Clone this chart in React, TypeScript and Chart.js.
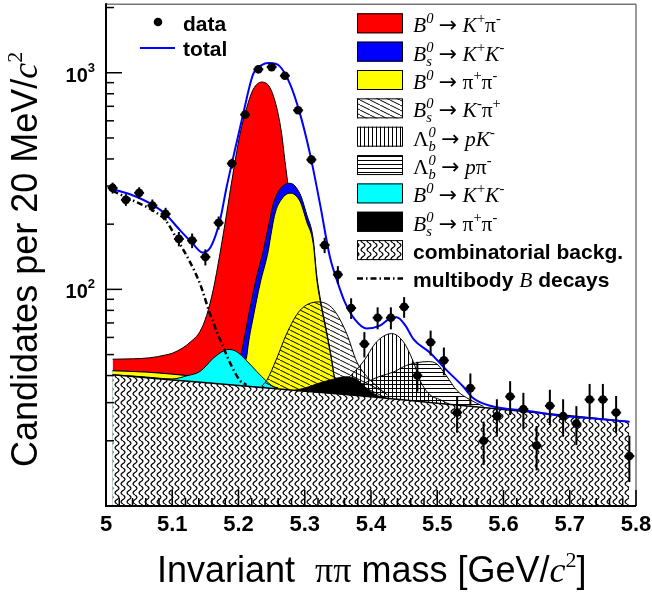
import React, { useEffect, useRef } from "react";
import { Chart, registerables } from "chart.js";
Chart.register(...registerables);

// ---------- data ----------
const binCenters = [5.01, 5.03, 5.05, 5.07, 5.09, 5.11, 5.13, 5.15, 5.17, 5.19, 5.21, 5.23, 5.25, 5.27, 5.29, 5.31, 5.33, 5.35, 5.37, 5.39, 5.41, 5.43, 5.45, 5.47, 5.49, 5.51, 5.53, 5.55, 5.57, 5.59, 5.61, 5.63, 5.65, 5.67, 5.69, 5.71, 5.73, 5.75, 5.77, 5.79];
const dataCounts = [294, 259, 279, 244, 223, 171, 168, 141, 203, 381, 641, 1037, 1062, 969, 671, 397, 160, 117, 82, 56, 74, 74, 83, 40, 57, 47, 27, 35, 20, 26, 32, 28, 19, 29, 26, 24, 31, 31, 27, 17];
const dataErrors = [17, 16, 17, 16, 15, 13, 13, 12, 14, 20, 25, 32, 33, 31, 26, 20, 13, 11, 9, 7.5, 8.6, 8.6, 9.1, 6.3, 7.5, 6.9, 5.2, 5.9, 4.5, 5.1, 5.7, 5.3, 4.4, 5.4, 5.1, 4.9, 5.6, 5.6, 5.2, 4.1];

const totalMass = [5.01, 5.04, 5.07, 5.09, 5.11, 5.13, 5.146, 5.158, 5.172, 5.182, 5.192, 5.207, 5.222, 5.237, 5.247, 5.262, 5.278, 5.293, 5.308, 5.323, 5.338, 5.35, 5.36, 5.375, 5.393, 5.4136, 5.4287, 5.4388, 5.452, 5.464, 5.489, 5.514, 5.539, 5.554, 5.58, 5.64, 5.69, 5.74, 5.79];
const totalVal = [290, 272, 246, 222, 190, 164, 148, 157, 208, 296, 406, 644, 983, 1093, 1108, 1073, 884, 644, 421, 248, 141, 107, 88, 73, 66, 68, 73.5, 74.3, 68, 59, 51, 42.4, 35.6, 31.5, 29, 27.4, 26, 25.3, 24.5];

const multiMass = [5.01, 5.04, 5.07, 5.09, 5.107, 5.125, 5.142, 5.157, 5.177, 5.19, 5.202, 5.212];
const multiVal = [285, 258, 232, 208, 171, 137, 106, 77, 54, 44, 38, 36.2];

const combMass = [5.01, 5.1, 5.2, 5.3, 5.4, 5.5, 5.6, 5.7, 5.79];
const combVal = [40.3, 38.2, 36.0, 33.9, 31.9, 29.8, 27.9, 26.1, 24.5];

const kpiMass = [5.01, 5.04, 5.066, 5.09, 5.1, 5.115, 5.127, 5.142, 5.152, 5.162, 5.172, 5.182, 5.19, 5.2023, 5.2124, 5.2223, 5.235, 5.2475, 5.2577, 5.2652, 5.27, 5.2752, 5.28, 5.29, 5.3, 5.31, 5.32, 5.33, 5.34, 5.35];
const kpiVal = [47.6, 47.8, 48.3, 49.8, 50.7, 53.5, 57, 64, 76, 100, 146, 223, 318, 521, 690, 839, 906, 853, 690, 521, 393, 296, 225, 150, 100, 68, 50, 40, 35, 33.2];

const bsKKMass = [5.01, 5.06, 5.1, 5.13, 5.16, 5.19, 5.2, 5.2072, 5.2148, 5.2249, 5.2374, 5.245, 5.2525, 5.2626, 5.2777, 5.2928, 5.3029, 5.3129, 5.318, 5.3231, 5.333, 5.3407, 5.345, 5.35, 5.36];
const bsKKVal = [42.1, 41.5, 40.6, 39.8, 39.0, 39.5, 44.5, 56.3, 74.6, 106, 151, 194, 248, 290, 309, 276, 222, 170, 117, 92, 64, 47.5, 39, 34.6, 33.5];

const pipiMass = [5.01, 5.06, 5.1, 5.13, 5.16, 5.19, 5.2, 5.207, 5.2124, 5.2148, 5.2223, 5.2325, 5.245, 5.2475, 5.255, 5.2652, 5.2777, 5.2928, 5.3029, 5.3129, 5.318, 5.3231, 5.333, 5.3407, 5.345, 5.35, 5.36];
const pipiVal = [42.1, 41.5, 40.6, 39.8, 39.0, 39.5, 41.5, 45, 49, 56, 74.6, 106, 151, 168, 223, 261, 278, 255, 205, 162, 112, 89, 62.5, 46.4, 38.5, 34.5, 33.5];

const bsKpiMass = [5.235, 5.2426, 5.2577, 5.2728, 5.2928, 5.3205, 5.343, 5.3633, 5.3784, 5.3935, 5.41, 5.425];
const bsKpiVal = [35.8, 38.0, 48, 62.5, 80, 87.5, 81, 62.5, 46.4, 39.7, 35.5, 32.5];

const lbpKMass = [5.33, 5.35, 5.3683, 5.3884, 5.4086, 5.4312, 5.4488, 5.4638, 5.474, 5.489, 5.504, 5.52];
const lbpKVal = [33.5, 35.5, 39.7, 46.4, 57.3, 62.5, 57.3, 46.4, 38, 32.6, 31, 29.3];

const lbppiMass = [5.32, 5.3633, 5.3834, 5.4136, 5.4337, 5.454, 5.4865, 5.4992, 5.5143, 5.5294, 5.549, 5.57];
const lbppiVal = [33.6, 35.0, 36.3, 39.7, 41.5, 44.6, 46.4, 45.3, 39.7, 34.2, 31.0, 28.8];

const b0KKMass = [5.01, 5.06, 5.1, 5.1218, 5.1419, 5.162, 5.177, 5.186, 5.197, 5.2124, 5.2275, 5.2426, 5.2525, 5.26];
const b0KKVal = [40.4, 39.4, 38.6, 39.9, 41.8, 48.1, 51.9, 52.8, 51.6, 46.8, 41.8, 37.6, 35.6, 35.1];

const bspipiMass = [5.285, 5.3, 5.318, 5.343, 5.361, 5.378, 5.393, 5.41, 5.42];
const bspipiVal = [34.2, 35.0, 36.6, 38.5, 39.5, 38.5, 35.0, 32.3, 31.7];

const xTickValues = [5, 5.1, 5.2, 5.3, 5.4, 5.5, 5.6, 5.7, 5.8];
const xTickLabels = ["5", "5.1", "5.2", "5.3", "5.4", "5.5", "5.6", "5.7", "5.8"];
const yMajorValues = [100, 1000];
const yMajorExp = ["2", "3"];
const yMinorValues = [20, 30, 40, 50, 60, 70, 80, 90, 200, 300, 400, 500, 600, 700, 800, 900, 2000];

// ---------- styling helpers ----------
const SANS = '"Liberation Sans", Arial, Helvetica, sans-serif';
const SERIF = '"Liberation Serif", "DejaVu Serif", serif';

type Seg = { t: string; f: string; dy?: number; sub?: { t: string; f: string; dy: number } };

function drawRich(ctx: CanvasRenderingContext2D, x: number, y: number, segs: Seg[]) {
  let cx = x;
  for (const s of segs) {
    ctx.font = s.f;
    ctx.fillText(s.t, cx, y + (s.dy || 0));
    let w = ctx.measureText(s.t).width;
    if (s.sub) {
      ctx.font = s.sub.f;
      ctx.fillText(s.sub.t, cx, y + s.sub.dy);
      w = Math.max(w, ctx.measureText(s.sub.t).width);
    }
    cx += w;
  }
  return cx - x;
}

function makePattern(w: number, h: number, draw: (g: CanvasRenderingContext2D, w: number, h: number) => void) {
  const c = document.createElement("canvas");
  c.width = w;
  c.height = h;
  const g = c.getContext("2d")!;
  draw(g, w, h);
  return g.createPattern(c, "repeat")!;
}

function pts(ms: number[], vs: number[]) {
  return ms.map((m, i) => ({ x: m, y: vs[i] }));
}

export default function App() {
  const ref = useRef<HTMLCanvasElement>(null);

  useEffect(() => {
    const canvas = ref.current!;
    const ctx = canvas.getContext("2d")!;

    const pComb = makePattern(6, 9, (g, w, h) => {
      g.fillStyle = "#fff";
      g.fillRect(0, 0, w, h);
      g.strokeStyle = "#000";
      g.lineWidth = 1.25;
      g.beginPath();
      for (let k = 0; k <= 36; k++) {
        const yy = (k * h) / 36;
        const xx = w / 2 + 1.9 * Math.sin((2 * Math.PI * yy) / h);
        if (k === 0) g.moveTo(xx, yy);
        else g.lineTo(xx, yy);
      }
      g.stroke();
    });
    const pDiag = makePattern(10, 5, (g, w, h) => {
      g.strokeStyle = "#000";
      g.lineWidth = 1;
      for (const dx of [-w, 0, w]) {
        g.beginPath();
        g.moveTo(dx, 0);
        g.lineTo(dx + w, h);
        g.stroke();
      }
    });
    const pVert = makePattern(4, 4, (g) => {
      g.fillStyle = "#000";
      g.fillRect(0, 0, 1, 4);
    });
    const pHorz = makePattern(4, 4, (g) => {
      g.fillStyle = "#000";
      g.fillRect(0, 0, 4, 1);
    });

    const area = (label: string, ms: number[], vs: number[], bg: any, order: number) => ({
      label,
      data: pts(ms, vs),
      backgroundColor: bg,
      borderColor: "#000",
      borderWidth: 1,
      fill: "start",
      pointRadius: 0,
      cubicInterpolationMode: "monotone",
      order,
    });

    const legendRows: { seg: Seg[]; fill: any; kind: string }[] = [];
    const BI = `italic 21.5px ${SERIF}`;
    const BN = `21.5px ${SERIF}`;
    const SI = `italic 14.5px ${SERIF}`;
    const SN = `14.5px ${SERIF}`;
    const SUP = -9;
    const SUB = 5;
    const sp: Seg = { t: " ", f: BN };
    const arrowSeg: Seg[] = [sp, { t: "\u2192", f: `22px "DejaVu Sans", sans-serif` }, sp];
    const B0: Seg[] = [{ t: "B", f: BI }, { t: "0", f: SI, dy: SUP }];
    const Bs0: Seg[] = [{ t: "B", f: BI }, { t: "0", f: SI, dy: SUP, sub: { t: "s", f: SI, dy: SUB } }];
    const Lb0: Seg[] = [{ t: "\u039B", f: BN }, { t: "0", f: SI, dy: SUP, sub: { t: "b", f: SI, dy: SUB } }];
    const Kp: Seg[] = [{ t: "K", f: BI }, { t: "+", f: SN, dy: SUP }];
    const Km: Seg[] = [{ t: "K", f: BI }, { t: "-", f: SN, dy: SUP }];
    const pip: Seg[] = [{ t: "\u03C0", f: BN }, { t: "+", f: SN, dy: SUP }];
    const pim: Seg[] = [{ t: "\u03C0", f: BN }, { t: "-", f: SN, dy: SUP }];
    const p: Seg[] = [{ t: "p", f: BI }];
    legendRows.push({ seg: [...B0, ...arrowSeg, ...Kp, ...pim], fill: "#ff0000", kind: "box" });
    legendRows.push({ seg: [...Bs0, ...arrowSeg, ...Kp, ...Km], fill: "#0000ff", kind: "box" });
    legendRows.push({ seg: [...B0, ...arrowSeg, ...pip, ...pim], fill: "#ffff00", kind: "box" });
    legendRows.push({ seg: [...Bs0, ...arrowSeg, ...Km, ...pip], fill: pDiag, kind: "box" });
    legendRows.push({ seg: [...Lb0, ...arrowSeg, ...p, ...Km], fill: pVert, kind: "box" });
    legendRows.push({ seg: [...Lb0, ...arrowSeg, ...p, ...pim], fill: pHorz, kind: "box" });
    legendRows.push({ seg: [...B0, ...arrowSeg, ...Kp, ...Km], fill: "#00ffff", kind: "box" });
    legendRows.push({ seg: [...Bs0, ...arrowSeg, ...pip, ...pim], fill: "#000000", kind: "box" });
    legendRows.push({ seg: [{ t: "combinatorial backg.", f: `bold 21px ${SANS}` }], fill: pComb, kind: "box" });
    legendRows.push({
      seg: [
        { t: "multibody ", f: `bold 21px ${SANS}` },
        { t: "B", f: BI },
        { t: " decays", f: `bold 21px ${SANS}` },
      ],
      fill: null,
      kind: "dash",
    });

    const line = (c: CanvasRenderingContext2D, x0: number, y0: number, x1: number, y1: number) => {
      c.beginPath();
      c.moveTo(x0, y0);
      c.lineTo(x1, y1);
      c.stroke();
    };

    const decor = {
      id: "decor",
      afterDatasetsDraw(chart: any) {
        const c = chart.ctx as CanvasRenderingContext2D;
        const xs = chart.scales.x;
        const ys = chart.scales.y;
        c.save();
        c.strokeStyle = "#000";
        c.lineWidth = 2;
        binCenters.forEach((m, i) => {
          const px = xs.getPixelForValue(m);
          const v = dataCounts[i];
          const e = dataErrors[i];
          line(c, px, ys.getPixelForValue(v - e), px, ys.getPixelForValue(v + e));
          const py = ys.getPixelForValue(v);
          line(c, xs.getPixelForValue(m - 0.0075), py, xs.getPixelForValue(m + 0.0075), py);
        });
        c.restore();
      },
      afterDraw(chart: any) {
        const c = chart.ctx as CanvasRenderingContext2D;
        const { left, right, top, bottom } = chart.chartArea;
        const xs = chart.scales.x;
        const ys = chart.scales.y;
        c.save();
        // frame
        c.lineCap = "butt";
        c.strokeStyle = "#777";
        c.lineWidth = 1.5;
        line(c, left, top, right, top);
        line(c, right, top, right, bottom);
        c.strokeStyle = "#000";
        c.lineWidth = 2;
        line(c, left, top - 1, left, bottom + 1);
        line(c, left - 1, bottom, right, bottom);
        // y ticks
        c.lineWidth = 1.5;
        yMinorValues.forEach((v) => {
          const py = ys.getPixelForValue(v);
          line(c, left, py, left + 8, py);
        });
        yMajorValues.forEach((v) => {
          const py = ys.getPixelForValue(v);
          line(c, left, py, left + 16, py);
        });
        // x ticks
        for (let i = 0; i <= 40; i++) {
          const m = 5 + i * 0.02;
          const px = xs.getPixelForValue(m);
          line(c, px, bottom, px, bottom - (i % 5 === 0 ? 16 : 8));
        }
        // tick labels
        c.fillStyle = "#000";
        c.textBaseline = "alphabetic";
        c.textAlign = "center";
        c.font = `bold 22px ${SANS}`;
        xTickValues.forEach((v, i) => {
          c.fillText(xTickLabels[i], xs.getPixelForValue(v), 531);
        });
        c.textAlign = "left";
        yMajorValues.forEach((v, i) => {
          const py = ys.getPixelForValue(v);
          c.font = `bold 20px ${SANS}`;
          const w1 = c.measureText("10").width;
          c.font = `bold 13px ${SANS}`;
          const w2 = c.measureText(yMajorExp[i]).width;
          const x0 = 95 - w1 - w2;
          c.font = `bold 20px ${SANS}`;
          c.fillText("10", x0, py + 9);
          c.font = `bold 13px ${SANS}`;
          c.fillText(yMajorExp[i], x0 + w1, py - 1);
        });
        // axis titles
        drawRich(c, 157, 582, [
          { t: "Invariant  ", f: `36px ${SANS}` },
          { t: "\u03C0\u03C0", f: `36px ${SERIF}` },
          { t: " mass [GeV/", f: `36px ${SANS}` },
          { t: "c", f: `italic 36px ${SERIF}` },
          { t: "2", f: `22px ${SERIF}`, dy: -15 },
          { t: "]", f: `36px ${SANS}` },
        ]);
        c.save();
        c.translate(37, 467);
        c.rotate(-Math.PI / 2);
        drawRich(c, 0, 0, [
          { t: "Candidates per 20 MeV/", f: `36px ${SANS}` },
          { t: "c", f: `italic 36px ${SERIF}` },
          { t: "2", f: `22px ${SERIF}`, dy: -15 },
        ]);
        c.restore();
        // left legend
        c.beginPath();
        c.arc(158, 22, 4.3, 0, Math.PI * 2);
        c.fill();
        c.font = `bold 21px ${SANS}`;
        c.fillText("data", 183, 31);
        c.strokeStyle = "#0000ff";
        c.lineWidth = 2;
        line(c, 140, 48, 175, 48);
        c.fillStyle = "#000";
        c.fillText("total", 183, 56);
        // right legend
        legendRows.forEach((r, i) => {
          const cy = 23.3 + i * 28.35;
          if (r.kind === "box") {
            c.fillStyle = "#fff";
            c.fillRect(357, cy - 10, 46, 20);
            c.fillStyle = r.fill;
            c.fillRect(357, cy - 10, 46, 20);
            c.strokeStyle = "#000";
            c.lineWidth = 1;
            c.strokeRect(357.5, cy - 9.5, 45, 19);
          } else {
            c.strokeStyle = "#000";
            c.lineWidth = 2.5;
            c.setLineDash([6, 3, 1.5, 3]);
            line(c, 357, cy, 403, cy);
            c.setLineDash([]);
          }
          c.fillStyle = "#000";
          drawRich(c, 413, cy + 9, r.seg);
        });
        c.restore();
      },
    };

    const chart = new Chart(ctx, {
      type: "line",
      data: {
        datasets: [
          {
            label: "data",
            data: pts(binCenters, dataCounts),
            showLine: false,
            pointRadius: 4.3,
            pointBackgroundColor: "#000",
            pointBorderColor: "#000",
            pointBorderWidth: 0,
            fill: false,
            order: 0,
          } as any,
          {
            label: "total",
            data: pts(totalMass, totalVal),
            borderColor: "#0000ff",
            borderWidth: 2,
            fill: false,
            pointRadius: 0,
            cubicInterpolationMode: "monotone",
            order: 1,
          },
          {
            label: "multibody B decays",
            data: pts(multiMass, multiVal),
            borderColor: "#000",
            borderWidth: 2.5,
            borderDash: [6, 3, 1.5, 3],
            fill: false,
            pointRadius: 0,
            cubicInterpolationMode: "monotone",
            order: 2,
          },
          { ...area("combinatorial backg.", combMass, combVal, pComb, 3), borderWidth: 1.5 },
          area("Bs->pipi", bspipiMass, bspipiVal, "#000000", 4),
          area("Lb->ppi", lbppiMass, lbppiVal, pHorz, 5),
          area("Lb->pK", lbpKMass, lbpKVal, pVert, 6),
          area("Bs->Kpi", bsKpiMass, bsKpiVal, pDiag, 7),
          area("B0->KK", b0KKMass, b0KKVal, "#00ffff", 8),
          area("B0->pipi", pipiMass, pipiVal, "#ffff00", 9),
          area("Bs->KK", bsKKMass, bsKKVal, "#0000ff", 10),
          area("B0->Kpi", kpiMass, kpiVal, "#ff0000", 11),
        ] as any,
      },
      options: {
        responsive: false,
        animation: false,
        layout: { padding: { left: 106, right: 16, top: 3, bottom: 87 } },
        plugins: { legend: { display: false }, tooltip: { enabled: false } },
        scales: {
          x: { type: "linear", min: 5, max: 5.8, display: false },
          y: { type: "logarithmic", min: 10, max: 2070, display: false },
        },
      },
      plugins: [decor as any],
    });
    return () => chart.destroy();
  }, []);

  return (
    <div style={{ position: "fixed", left: 0, top: 0, width: 652, height: 593, background: "#fff" }}>
      <canvas ref={ref} width={652} height={593} style={{ display: "block" }} />
    </div>
  );
}
